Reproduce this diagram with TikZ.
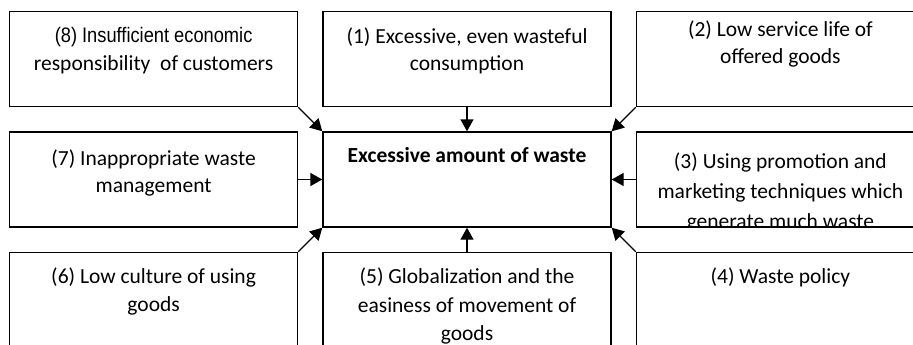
\documentclass[tikz,border=0pt]{standalone}
\usepackage{fontspec}
\setmainfont{Carlito}
\newfontfamily\narrowsans[FakeStretch=0.87]{Liberation Sans}
\usetikzlibrary{positioning,arrows.meta}
\begin{document}
\begin{tikzpicture}[node distance=24pt and 24pt, textdrop/.initial=15pt, linestep/.initial=27.5pt]
        \tikzset{cause/.style={rectangle, draw=black, line width=1.4pt, minimum width=288pt, minimum height=95pt, inner sep=0pt,
            path picture={\node[anchor=north, align=center, inner sep=0pt, minimum width=0pt, minimum height=0pt, draw=none,
                font=\fontsize{21.5}{\pgfkeysvalueof{/tikz/linestep}}\selectfont]
                at ([yshift=-\pgfkeysvalueof{/tikz/textdrop}]path picture bounding box.north) {#1};}}}
        \tikzstyle{arrow} = [line width=1.4pt, -{Triangle[length=12pt, width=13pt]}]

        \useasboundingbox (0,0) rectangle (913pt,-345pt);

        \node (waste) [cause={\bfseries Excessive amount of waste}] at (467pt,-179.5pt) {};
        \node (c1) [cause={(1) Excessive, even wasteful\\consumption}, above=of waste] {};
        \node (c2) [cause={(2) Low service life of\\offered goods}, textdrop=8pt, above right=of waste] {};
        \node (c3) [cause={(3) Using promotion and\\marketing techniques which\\generate much waste}, textdrop=20pt, linestep=30pt, right=of waste] {};
        \node (c4) [cause={(4) Waste policy}, below right=of waste] {};
        \node (c5) [cause={(5) Globalization and the\\easiness of movement of\\goods}, linestep=28.5pt, below=of waste] {};
        \node (c6) [cause={(6) Low culture of using\\goods}, below left=of waste] {};
        \node (c7) [cause={(7) Inappropriate waste\\management}, textdrop=17pt, left=of waste] {};
        \node (c8) [cause={\narrowsans\fontsize{21}{27}\selectfont (8) Insufficient economic\\responsibility~ of customers}, above left=of waste] {};

        \draw [arrow] (c1) -- (waste);
        \draw [arrow] (c2.south west) -- (waste.north east);
        \draw [arrow] (c3) -- (waste);
        \draw [arrow] (c4.north west) -- (waste.south east);
        \draw [arrow] (c5) -- (waste);
        \draw [arrow] (c6.north east) -- (waste.south west);
        \draw [arrow] (c7) -- (waste);
        \draw [arrow] (c8.south east) -- (waste.north west);
    \end{tikzpicture}
\end{document}
